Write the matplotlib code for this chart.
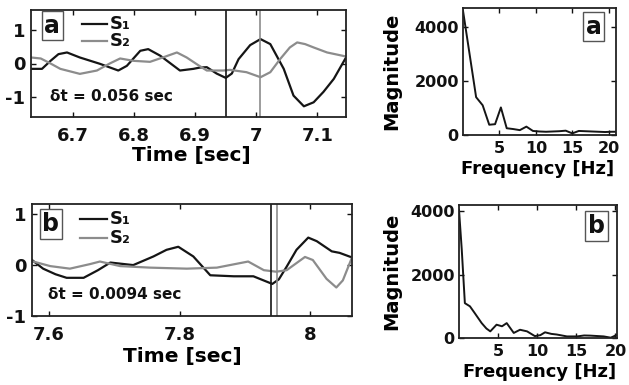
import matplotlib
matplotlib.use("Agg")
import matplotlib.pyplot as plt

plt.rcParams['font.family'] = ['DejaVu Sans']
plt.rcParams['font.weight'] = 'bold'

# ---------------- data ----------------
# Panel a (time series)
t_a1 = [6.631, 6.649, 6.663, 6.676, 6.690, 6.711, 6.744, 6.774, 6.788, 6.810, 6.823, 6.843,
        6.875, 6.897, 6.908, 6.919, 6.935, 6.950, 6.960, 6.971, 6.990, 7.007, 7.023, 7.045,
        7.061, 7.078, 7.094, 7.110, 7.127, 7.147]
s_a1 = [-0.16, -0.16, 0.08, 0.28, 0.33, 0.18, -0.01, -0.21, -0.07, 0.38, 0.43, 0.23,
        -0.21, -0.16, -0.12, -0.11, -0.30, -0.43, -0.30, 0.13, 0.55, 0.73, 0.58, -0.16,
        -0.96, -1.28, -1.16, -0.85, -0.46, 0.18]
t_a2 = [6.631, 6.647, 6.663, 6.679, 6.711, 6.739, 6.760, 6.777, 6.799, 6.826, 6.850, 6.870,
        6.886, 6.905, 6.919, 6.946, 6.957, 6.984, 7.007, 7.023, 7.039, 7.055, 7.067, 7.080,
        7.094, 7.116, 7.147]
s_a2 = [0.18, 0.15, 0.0, -0.16, -0.31, -0.21, 0.0, 0.15, 0.08, 0.05, 0.20, 0.33,
        0.18, -0.05, -0.21, -0.21, -0.19, -0.26, -0.41, -0.26, 0.13, 0.48, 0.63, 0.58,
        0.48, 0.33, 0.21]
marks_a = [6.950, 7.006]
dt_a = "0.056"

# Panel b (time series)
t_b1 = [7.573, 7.591, 7.610, 7.627, 7.653, 7.675, 7.694, 7.729, 7.760, 7.780, 7.798, 7.821,
        7.847, 7.883, 7.913, 7.942, 7.952, 7.964, 7.979, 7.997, 8.010, 8.033, 8.045, 8.064]
s_b1 = [0.11, -0.07, -0.18, -0.25, -0.25, -0.10, 0.05, 0.00, 0.17, 0.30, 0.36, 0.17,
        -0.20, -0.22, -0.22, -0.37, -0.28, -0.03, 0.30, 0.54, 0.47, 0.27, 0.24, 0.15]
t_b2 = [7.573, 7.602, 7.632, 7.663, 7.678, 7.709, 7.755, 7.811, 7.857, 7.905, 7.929, 7.948,
        7.964, 7.992, 8.004, 8.025, 8.040, 8.050, 8.064]
s_b2 = [0.08, -0.02, -0.07, 0.02, 0.07, -0.02, -0.05, -0.07, -0.05, 0.07, -0.10, -0.13,
        -0.10, 0.16, 0.10, -0.27, -0.44, -0.30, 0.15]
marks_b = [7.9405, 7.9499]
dt_b = "0.0094"

# Spectra
freq_a = [0.0, 0.9, 1.8, 2.7, 3.6, 4.4, 5.2, 6.0, 6.9, 7.8, 8.7, 9.6, 10.5, 11.4, 12.3,
          13.2, 14.1, 15.0, 15.9, 16.8, 17.7, 18.6, 19.5, 20.4, 21.0]
mag_a = [4600, 3000, 1400, 1100, 380, 400, 1020, 250, 220, 180, 310, 150, 130, 120, 130,
         140, 160, 60, 150, 140, 130, 120, 110, 120, 120]
freq_b = [0.0, 0.35, 0.75, 1.4, 2.0, 2.9, 3.5, 4.0, 4.8, 5.5, 6.1, 7.0, 7.8, 8.7, 9.7,
          10.4, 11.0, 11.8, 12.5, 13.8, 15.1, 16.0, 16.8, 18.5, 19.4, 20.2]
mag_b = [4050, 2800, 1100, 1000, 790, 470, 300, 210, 420, 370, 470, 160, 260, 210, 60,
         90, 180, 130, 110, 50, 50, 80, 75, 50, 10, 100]

BLACK = '#151515'
GRAY = '#8c8c8c'

W, H = 629, 385
fig = plt.figure(figsize=(W / 100, H / 100), dpi=100)


def px_axes(x0, y0, x1, y1):
    return fig.add_axes([x0 / W, 1 - y1 / H, (x1 - x0) / W, (y1 - y0) / H])


def style(ax, fs):
    for sp in ax.spines.values():
        sp.set_linewidth(1.3)
        sp.set_color('#222222')
    ax.tick_params(direction='in', top=True, right=True, length=3.5, width=1.0,
                   labelsize=fs, pad=5, colors='#111111')
    for lab in ax.get_xticklabels() + ax.get_yticklabels():
        lab.set_fontweight('bold')


def box_label(ax, x, y, s):
    ax.text(x, y, s, transform=ax.transAxes, ha='center', va='center', fontsize=17,
            fontweight='bold', color='#111111',
            bbox=dict(boxstyle='square,pad=0.12', fc='white', ec='#555555', lw=1.0))


def time_panel(ax, t1, s1, t2, s2, marks, dt, label, xlim, ylim, xticks, yticks,
               lbl_pos, leg, dtpos, xlab_pos):
    ax.plot(t1, s1, color=BLACK, lw=1.6)
    ax.plot(t2, s2, color=GRAY, lw=1.6)
    ax.axvline(marks[0], color=BLACK, lw=1.2)
    ax.axvline(marks[1], color=GRAY, lw=1.2)
    ax.set_xlim(*xlim)
    ax.set_ylim(*ylim)
    ax.set_xticks(xticks)
    ax.set_xticklabels([('%g' % v) for v in xticks])
    ax.set_yticks(yticks)
    ax.set_yticklabels([('%g' % v) for v in yticks])
    style(ax, 13)
    ax.tick_params(axis='x', pad=7)
    ax.tick_params(axis='y', pad=4)
    box_label(ax, lbl_pos[0], lbl_pos[1], label)
    lx0, lx1, ty, y1, y2 = leg
    ax.plot([lx0, lx1], [y1, y1], transform=ax.transAxes, color=BLACK, lw=1.6)
    ax.plot([lx0, lx1], [y2, y2], transform=ax.transAxes, color=GRAY, lw=1.6)
    ax.text(ty, y1, 'S\u2081', transform=ax.transAxes, ha='left', va='center',
            fontsize=13, fontweight='bold', color='#111111')
    ax.text(ty, y2, 'S\u2082', transform=ax.transAxes, ha='left', va='center',
            fontsize=13, fontweight='bold', color='#111111')
    ax.text(dtpos[0], dtpos[1], '\u03b4t = ' + dt + ' sec', transform=ax.transAxes,
            ha='left', va='center', fontsize=11, fontweight='bold', color='#111111')
    ax.set_xlabel('Time [sec]', fontsize=14.5, fontweight='bold')
    ax.xaxis.set_label_coords(*xlab_pos)


def spec_panel(ax, f, m, label, xlim, ylim, lbl_pos, ylab_x, xlab_pos):
    ax.plot(f, m, color=BLACK, lw=1.4)
    ax.set_xlim(*xlim)
    ax.set_ylim(*ylim)
    ax.set_xticks([5, 10, 15, 20])
    ax.set_yticks([0, 2000, 4000])
    style(ax, 11.5)
    ax.tick_params(axis='x', pad=4)
    ax.tick_params(axis='y', pad=3)
    box_label(ax, lbl_pos[0], lbl_pos[1], label)
    ax.set_ylabel('Magnitude', fontsize=14, fontweight='bold')
    ax.yaxis.set_label_coords(ylab_x, 0.5)
    ax.set_xlabel('Frequency [Hz]', fontsize=13, fontweight='bold')
    ax.xaxis.set_label_coords(*xlab_pos)


ax1 = px_axes(31, 10, 346, 117)
time_panel(ax1, t_a1, s_a1, t_a2, s_a2, marks_a, dt_a, 'a',
           (6.631, 7.147), (-1.6, 1.6), [6.7, 6.8, 6.9, 7.0, 7.1], [-1, 0, 1],
           (0.068, 0.855), (0.162, 0.241, 0.25, 0.869, 0.71), (0.06, 0.187),
           (0.508, -0.27))

ax2 = px_axes(32, 204, 352, 316)
time_panel(ax2, t_b1, s_b1, t_b2, s_b2, marks_b, dt_b, 'b',
           (7.574, 8.064), (-1.0, 1.2), [7.6, 7.8, 8.0], [-1, 0, 1],
           (0.059, 0.821), (0.15, 0.234, 0.244, 0.866, 0.696), (0.05, 0.19),
           (0.47, -0.277))

ax3 = px_axes(463, 8, 616, 135)
spec_panel(ax3, freq_a, mag_a, 'a', (0, 21), (0, 4700), (0.853, 0.854), -0.405,
           (0.49, -0.197))

ax4 = px_axes(459, 205, 617, 338)
spec_panel(ax4, freq_b, mag_b, 'b', (0, 20.2), (0, 4200), (0.87, 0.842), -0.367,
           (0.51, -0.188))

fig.savefig('out.png', dpi=100, facecolor='white')
